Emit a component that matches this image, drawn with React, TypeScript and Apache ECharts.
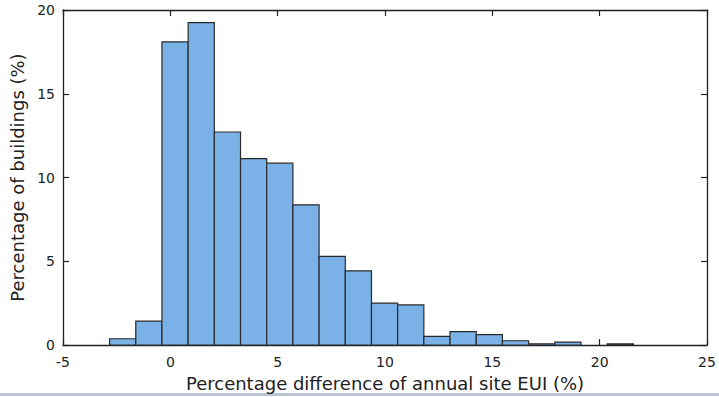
import React, { useEffect, useRef } from "react";
import * as echarts from "echarts";

const binEdges = [
  -2.83, -1.61, -0.39, 0.83, 2.05, 3.27, 4.49, 5.71, 6.93, 8.15, 9.37,
  10.59, 11.81, 13.03, 14.25, 15.47, 16.69, 17.91, 19.13, 20.35, 21.57,
];
const binValues = [
  0.38, 1.43, 18.1, 19.25, 12.72, 11.13, 10.86, 8.37, 5.3, 4.43, 2.5, 2.4,
  0.52, 0.8, 0.62, 0.26, 0.08, 0.18, 0, 0.07,
];
const xTicks = { min: -5, max: 25, interval: 5 };
const yTicks = { min: 0, max: 20, interval: 5 };
const xTitle = "Percentage difference of annual site EUI (%)";
const yTitle = "Percentage of buildings (%)";

export default function App() {
  const ref = useRef<HTMLDivElement>(null);
  useEffect(() => {
    if (!ref.current) return;
    const chart = echarts.init(ref.current, null, { renderer: "svg" });
    const data = binValues.map((v, i) => [binEdges[i], binEdges[i + 1], v]);
    const axisLine = { show: true, onZero: false, lineStyle: { color: "#222", width: 1.3 } };
    const tick = { show: true, inside: true, length: 6, lineStyle: { color: "#222", width: 1.2 } };
    const font = "DejaVu Sans";
    chart.setOption({
      animation: false,
      backgroundColor: "#fff",
      grid: { left: 63, right: 12, top: 10, bottom: 51, containLabel: false },
      xAxis: [
        {
          type: "value",
          ...xTicks,
          position: "bottom",
          axisLine,
          axisTick: tick,
          axisLabel: { color: "#222", fontFamily: font, fontSize: 14, margin: 10 },
          splitLine: { show: false },
          name: xTitle,
          nameLocation: "middle",
          nameGap: 27,
          nameTextStyle: { color: "#222", fontFamily: font, fontSize: 18 },
        },
        {
          type: "value",
          ...xTicks,
          position: "top",
          axisLine,
          axisTick: tick,
          axisLabel: { show: false },
          splitLine: { show: false },
        },
      ],
      yAxis: [
        {
          type: "value",
          ...yTicks,
          position: "left",
          axisLine,
          axisTick: tick,
          axisLabel: { color: "#222", fontFamily: font, fontSize: 14, margin: 8 },
          splitLine: { show: false },
          name: yTitle,
          nameLocation: "middle",
          nameGap: 36,
          nameTextStyle: { color: "#222", fontFamily: font, fontSize: 18 },
        },
        {
          type: "value",
          ...yTicks,
          position: "right",
          axisLine,
          axisTick: tick,
          axisLabel: { show: false },
          splitLine: { show: false },
        },
      ],
      graphic: [
        {
          type: "rect",
          left: 0,
          top: 393,
          shape: { width: 719, height: 3 },
          style: { fill: "#b9c6d6" },
        },
      ],
      series: [
        {
          type: "custom",
          xAxisIndex: 0,
          yAxisIndex: 0,
          data,
          renderItem: (params: any, api: any) => {
            const h = api.value(2);
            if (!h) return null;
            const p0 = api.coord([api.value(0), h]);
            const p1 = api.coord([api.value(1), 0]);
            return {
              type: "rect",
              shape: { x: p0[0], y: p0[1], width: p1[0] - p0[0], height: p1[1] - p0[1] },
              style: { fill: "#7ab2e8", stroke: "#2a2a2a", lineWidth: 1.2 },
            };
          },
        },
      ],
    });
    return () => chart.dispose();
  }, []);
  return (
    <div
      ref={ref}
      style={{ position: "absolute", left: 0, top: 0, width: 719, height: 397 }}
    />
  );
}
